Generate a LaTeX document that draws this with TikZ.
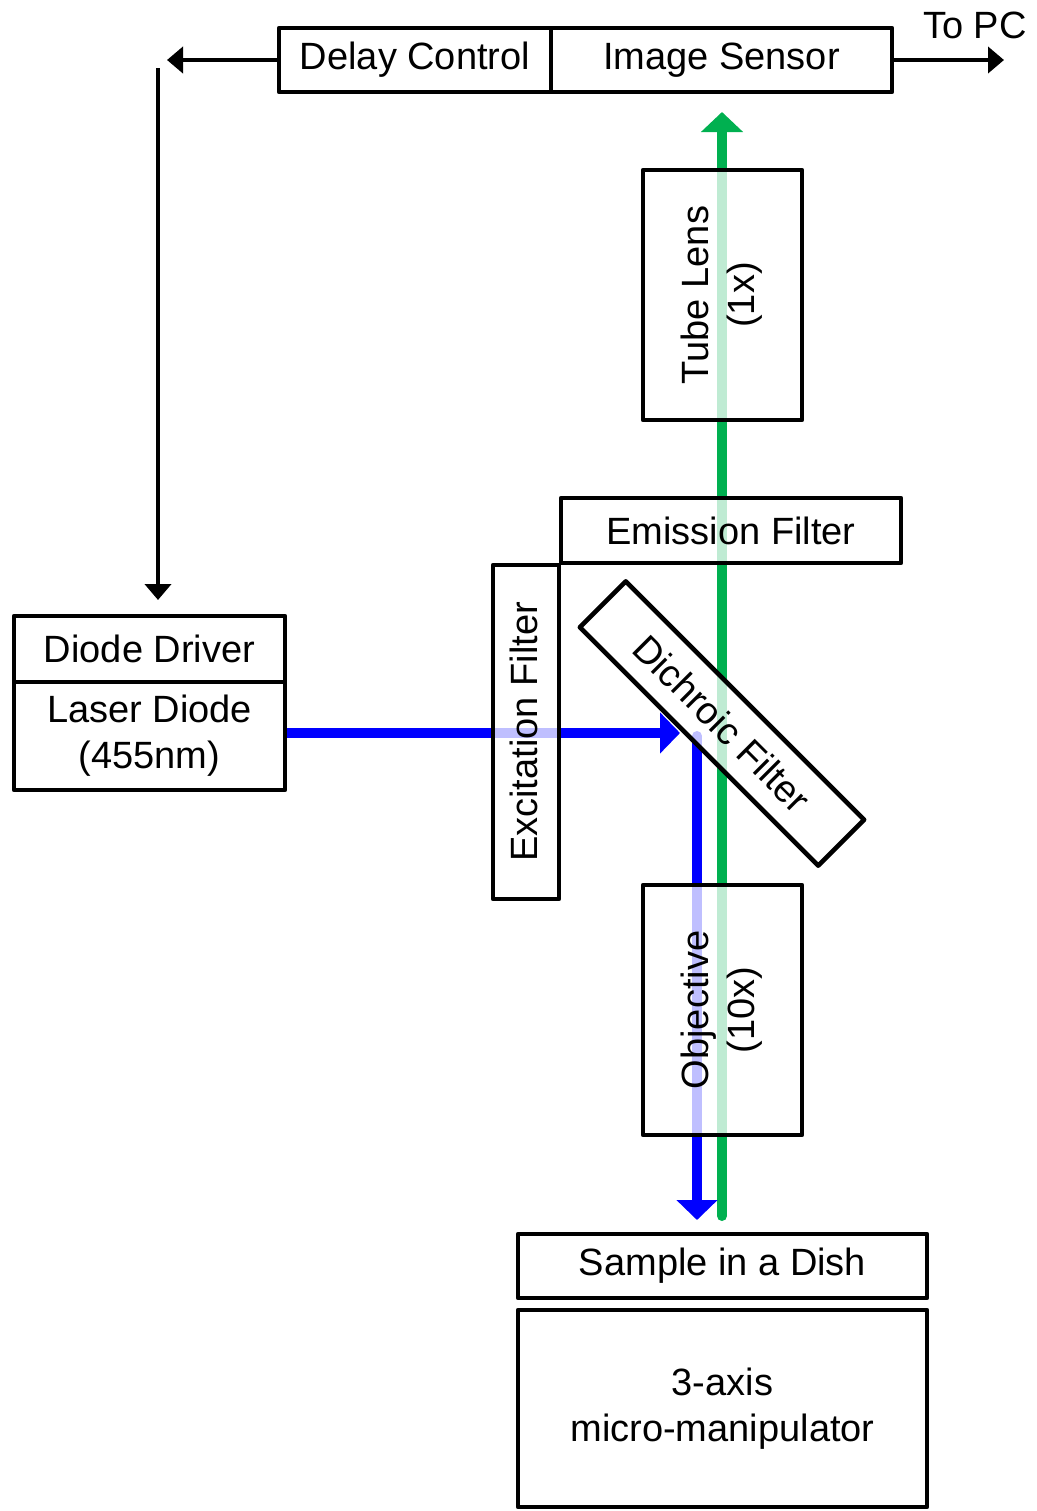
\documentclass[tikz,border=0pt]{standalone}
\usepackage{fontspec}
\setmainfont{Liberation Sans}
\usetikzlibrary{arrows.meta}
\definecolor{beamgreen}{HTML}{00B050}
\definecolor{beamblue}{HTML}{0000FF}
\begin{document}
\begin{tikzpicture}[x=0.5pt,y=0.5pt,
  box/.style={draw=black, line width=2.3pt, fill=white, fill opacity=0.75, text opacity=1,
    rectangle, inner sep=0pt, align=center, font=\fontsize{19}{23}\selectfont, line join=round},
  wire/.style={line width=2.2pt, draw=black, -{Triangle[length=8pt,width=13pt]}},
  bluebeam/.style={line width=5pt, draw=beamblue, -{Triangle[length=10pt,width=20pt]}},
  greenbeam/.style={line width=5pt, draw=beamgreen, line cap=round, -{Triangle[length=10pt,width=20.5pt]}},
  lbl/.style={font=\fontsize{19}{23}\selectfont, inner sep=0pt}]
\useasboundingbox (0,0) rectangle (1037,-1511);
% beam end points
\coordinate (gstart) at (722,-1216);
\coordinate (gtip) at (722,-112);
\coordinate (btip) at (680,-733);
\coordinate (bstart) at (697,-736);
\coordinate (bdown) at (697,-1220);
\coordinate (lefttip) at (167,-60);
\coordinate (vtop) at (158,-68);
\coordinate (vtip) at (158,-600);
\coordinate (pctip) at (1004,-60);
% beams (below boxes)
\draw[greenbeam] (gstart) -- (gtip);
\draw[bluebeam] (287,-733) -- (btip);
\draw[bluebeam, line cap=round] (bstart) -- (bdown);
% boxes
\node[box, minimum width=136pt, minimum height=32pt] (delay) at (415,-60) {Delay Control};
\node[box, minimum width=170.5pt, minimum height=32pt] (sensor) at (721.5,-60) {Image Sensor};
\node[box, minimum width=79.5pt, minimum height=125pt] (tube) at (722.5,-295) {};
\node[box, minimum width=170pt, minimum height=32.5pt] (emis) at (731,-530.5) {Emission Filter};
\node[box, minimum width=33pt, minimum height=167pt] (exci) at (526,-732) {};
\node[box, minimum width=168.5pt, minimum height=32.5pt, rotate=-45] (dich) at (722,-723.5) {Dichroic Filter};
\node[box, minimum width=79.5pt, minimum height=125pt] (obj) at (722.5,-1010) {};
\node[box, minimum width=204.5pt, minimum height=32pt] (sample) at (722.5,-1266) {Sample in a Dish};
\node[box, minimum width=204.5pt, minimum height=98.5pt] (manip) at (722.5,-1408.5) {3-axis\\micro-manipulator};
\node[box, minimum width=135.5pt, minimum height=33pt] (driver) at (149.5,-649) {Diode Driver};
\node[box, minimum width=135.5pt, minimum height=54pt] (laser) at (149.5,-736) {Laser Diode\\(455nm)};
% rotated labels
\node[lbl, rotate=90, align=center] (tubelbl) at (721.5,-295) {Tube Lens\\(1x)};
\node[lbl, rotate=90] (excilbl) at (524,-732) {Excitation Filter};
\node[lbl, rotate=90, align=center] (objlbl) at (721.5,-1010) {Objective\\(10x)};
\node[lbl, anchor=center] (topc) at (975,-25) {To PC};
% signal connectors
\draw[wire] (delay.west) -- (lefttip);
\draw[wire] (vtop) -- (vtip);
\draw[wire] (sensor.east) -- (pctip);
\end{tikzpicture}
\end{document}
